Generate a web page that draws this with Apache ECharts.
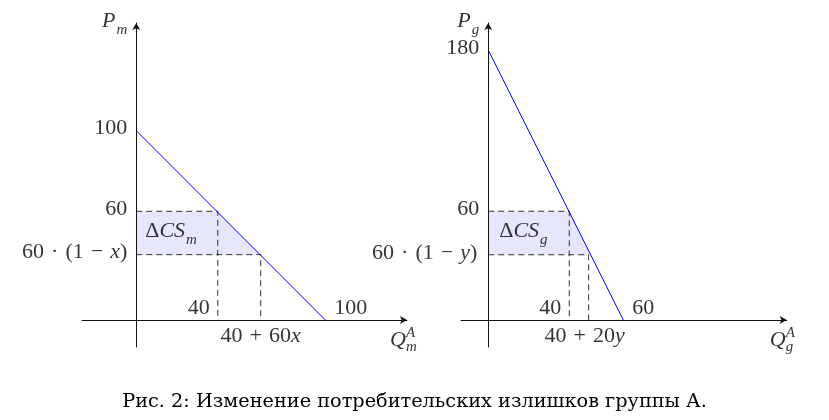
<!DOCTYPE html>
<html>
<head>
<meta charset="utf-8">
<script src="https://cdn.jsdelivr.net/npm/echarts@6/dist/echarts.min.js"></script>
<style>html,body{margin:0;padding:0;background:#fff}#c{width:829px;height:420px}</style>
</head>
<body>
<div id="c"></div>
<script>
// ---------- data (schematic values) ----------
// Left panel: market m
const demandM = [[0, 100], [100, 0]];
const priceM = [57.4, 34.5];          // "60", "60·(1−x)"
const qtyM = [43.1, 65.8];            // "40", "40+60x"
const fillM = [[0, 57.4], [42.8, 57.4], [65.6, 34.5], [0, 34.5]];
const axisM = { xMin: -28.7, xMax: 143.2, yMin: -14.3, yMax: 156.9 };

// Right panel: market g
const demandG = [[0, 180], [60, 0]];
const priceG = [72.5, 43.5];          // "60", "60·(1−y)"
const qtyG = [36.0, 44.6];            // "40", "40+20y"
const fillG = [[0, 72.5], [35.8, 72.5], [45.5, 43.5], [0, 43.5]];
const axisG = { xMin: -12.1, xMax: 132.6, yMin: -18, yMax: 198 };

const caption = 'Рис. 2: Изменение потребительских излишков группы А.';

// ---------- styling ----------
const FONT = 'Liberation Serif';
const FS = 22;
const base = { fontFamily: FONT, fontSize: FS, color: '#000', lineHeight: 26, verticalAlign: 'top' };
const rich = {
  n: Object.assign({}, base),
  o: Object.assign({}, base, { padding: [0, 7, 0, 7] }),
  i: Object.assign({}, base, { fontStyle: 'italic' }),
  s: { fontFamily: FONT, fontSize: 15, fontStyle: 'italic', color: '#000', lineHeight: 15, padding: [13, 0, 0, 1], verticalAlign: 'top' },
  ss: { fontFamily: FONT, fontSize: 15, fontStyle: 'italic', color: '#000', lineHeight: 14 }
};

function lbl(pt, text, dx, dy, align, va) {
  return {
    value: pt,
    label: { show: true, formatter: text, position: [dx, dy], align: align, verticalAlign: va, rich: rich }
  };
}

function axes(a, gi) {
  const common = {
    gridIndex: gi, type: 'value', z: 5,
    axisLine: { show: true, onZero: true, symbol: ['none', 'arrow'], symbolSize: [6, 7],
      lineStyle: { color: '#111', width: 1 } },
    axisTick: { show: false }, axisLabel: { show: false }, splitLine: { show: false }
  };
  return {
    x: Object.assign({}, common, { min: a.xMin, max: a.xMax }),
    y: Object.assign({}, common, { min: a.yMin, max: a.yMax })
  };
}

function dashed(gi, pts) {
  return { type: 'line', xAxisIndex: gi, yAxisIndex: gi, data: pts, symbol: 'none', silent: true, z: 3,
    lineStyle: { color: '#333', width: 1, type: [6, 4] } };
}

function fill(gi, pts) {
  return { type: 'custom', xAxisIndex: gi, yAxisIndex: gi, data: pts, z: 1, silent: true,
    renderItem: function (params, api) {
      if (params.dataIndex !== 0) return;
      return { type: 'polygon', shape: { points: pts.map(p => api.coord(p)) },
        style: { fill: '#e6e6fc' } };
    } };
}

function demand(gi, pts) {
  return { type: 'line', xAxisIndex: gi, yAxisIndex: gi, data: pts, symbol: 'none', silent: true, z: 4,
    lineStyle: { color: '#0000ff', width: 1 } };
}

const aM = axes(axisM, 0), aG = axes(axisG, 1);

const labelsM = [
  lbl([0, axisM.yMax], '{i|P}{s|m}', -9, 0, 'right', 'middle'),
  lbl([0, demandM[0][1]], '{n|100}', -9, 0, 'right', 'middle'),
  lbl([0, priceM[0]], '{n|60}', -9, 0, 'right', 'middle'),
  lbl([0, priceM[1]], '{n|60}{o|·}{n|(1}{o|−}{i|x}{n|)}', -9, 0, 'right', 'middle'),
  lbl([qtyM[0], 0], '{n|40}', -8, 3, 'right', 'bottom'),
  lbl([qtyM[1], 0], '{n|40}{o|+}{n|60}{i|x}', 0, 5, 'center', 'top'),
  lbl([demandM[1][0], 0], '{n|100}', 9, 3, 'left', 'bottom'),
  lbl([axisM.xMax, 0], '{i|Q}', -17, 9, 'left', 'top'),
  lbl([axisM.xMax, 0], '{ss|A}\n{ss|m}', -1, 6, 'left', 'top'),
  lbl([0, (priceM[0] + priceM[1]) / 2], '{n|Δ}{i|CS}{s|m}', 9, 0, 'left', 'middle')
];
const labelsG = [
  lbl([0, axisG.yMax], '{i|P}{s|g}', -9, 0, 'right', 'middle'),
  lbl([0, demandG[0][1]], '{n|180}', -9, 0, 'right', 'middle'),
  lbl([0, priceG[0]], '{n|60}', -9, 0, 'right', 'middle'),
  lbl([0, priceG[1]], '{n|60}{o|·}{n|(1}{o|−}{i|y}{n|)}', -11, 0, 'right', 'middle'),
  lbl([qtyG[0], 0], '{n|40}', -8, 3, 'right', 'bottom'),
  lbl([qtyG[1], 0], '{n|40}{o|+}{n|20}{i|y}', -4, 5, 'center', 'top'),
  lbl([demandG[1][0], 0], '{n|60}', 9, 3, 'left', 'bottom'),
  lbl([axisG.xMax, 0], '{i|Q}', -17, 9, 'left', 'top'),
  lbl([axisG.xMax, 0], '{ss|A}\n{ss|g}', -1, 6, 'left', 'top'),
  lbl([0, (priceG[0] + priceG[1]) / 2], '{n|Δ}{i|CS}{s|g}', 11, 0, 'left', 'middle')
];

function labelSeries(gi, data) {
  return { type: 'scatter', xAxisIndex: gi, yAxisIndex: gi, symbolSize: 0, data: data, z: 6, silent: true };
}

const chart = echarts.init(document.getElementById('c'), null, { renderer: 'canvas' });
chart.setOption({
  animation: false,
  backgroundColor: '#fff',
  title: {
    text: caption, left: 'center', top: 387,
    textStyle: { fontFamily: 'DejaVu Serif', fontSize: 19.3, fontWeight: 'normal', color: '#000' }
  },
  grid: [
    { left: 82, right: 422, top: 23, bottom: 73 },
    { left: 461, right: 42.3, top: 23, bottom: 73 }
  ],
  xAxis: [aM.x, aG.x],
  yAxis: [aM.y, aG.y],
  series: [
    fill(0, fillM),
    dashed(0, [[0, priceM[0]], [qtyM[0], priceM[0]], [qtyM[0], 0]]),
    dashed(0, [[0, priceM[1]], [qtyM[1], priceM[1]], [qtyM[1], 0]]),
    demand(0, demandM),
    labelSeries(0, labelsM),
    fill(1, fillG),
    dashed(1, [[0, priceG[0]], [qtyG[0], priceG[0]], [qtyG[0], 0]]),
    dashed(1, [[0, priceG[1]], [qtyG[1], priceG[1]], [qtyG[1], 0]]),
    demand(1, demandG),
    labelSeries(1, labelsG)
  ]
});
</script>
</body>
</html>
